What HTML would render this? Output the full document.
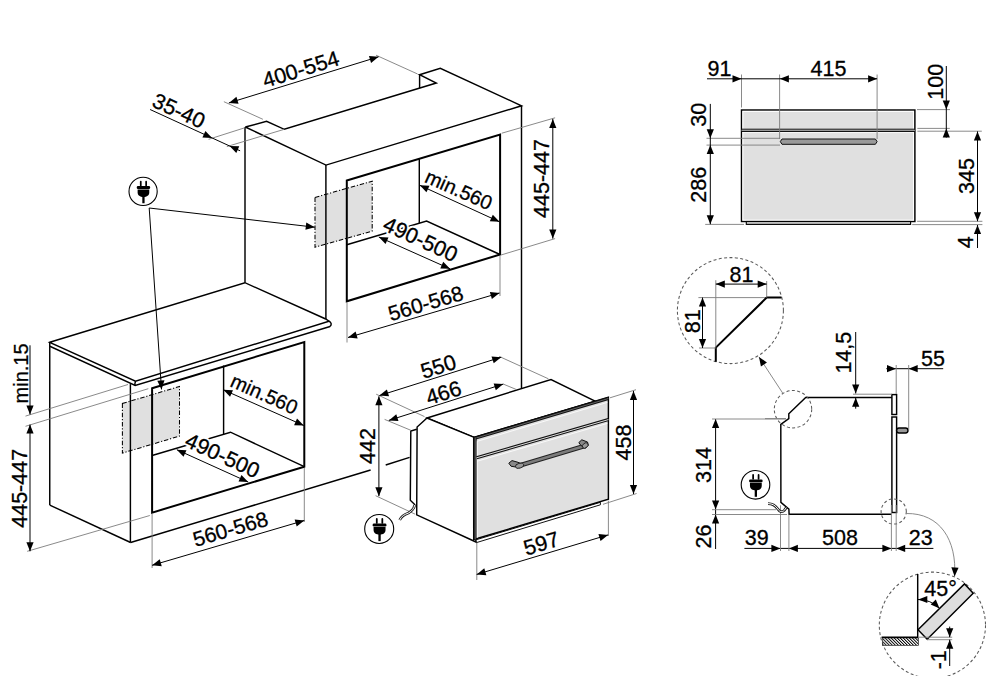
<!DOCTYPE html>
<html><head><meta charset="utf-8"><style>
html,body{margin:0;padding:0;background:#fff;}
svg{display:block;}
text{font-family:"Liberation Sans",sans-serif;text-anchor:middle;fill:#000;stroke:#000;stroke-width:0.3;}
text.halo{stroke:#fff;fill:#fff;stroke-width:4;stroke-linejoin:round;}
.k{stroke:#000;stroke-width:1.45;}
.k1{stroke:#111;stroke-width:1;}
.mid{stroke:#999;stroke-width:1.4;}
.w{stroke:#fff;stroke-width:0.8;}
.band{stroke:#111;stroke-width:2.9;}
.bandc{stroke:#8a8a8a;stroke-width:0.7;}
.band2{stroke:#111;stroke-width:3.1;}
.band2c{stroke:#f4f4f4;stroke-width:0.9;}
polyline,line{fill:none;}
.kt{stroke:#000;stroke-width:2;}
.d{stroke:#000;stroke-width:1;}
.g{stroke:#7d7d7d;stroke-width:0.9;}
.dc{stroke:#5a5a5a;stroke-width:1.05;stroke-dasharray:3 2.4;}
.dd{stroke:#000;stroke-width:1.05;stroke-dasharray:4.5 1.8 1.2 1.8;}
.ah{fill:#000;stroke:none;}
</style></head><body>
<svg width="1000" height="676" viewBox="0 0 1000 676">
<rect x="741.5" y="110" width="173.4" height="111.5" class="k" fill="#e0e0e0"/>
<rect x="742.9" y="111.4" width="170.6" height="108.7" stroke="#fff" stroke-width="1.0" fill="none"/>
<line x1="741.50" y1="130.40" x2="914.90" y2="130.40" class="mid"/>
<line x1="741.50" y1="129.20" x2="914.90" y2="129.20" class="k1"/>
<line x1="741.50" y1="131.50" x2="914.90" y2="131.50" class="k1"/>
<line x1="742.50" y1="132.60" x2="914.00" y2="132.60" class="w"/>
<rect x="746.3" y="221.5" width="164.3" height="2.9" stroke="#000" stroke-width="1.1" fill="#c8c8c8"/>
<polygon points="780.30,141.60 782.00,139.00 875.40,139.00 877.10,141.60 875.40,144.30 782.00,144.30" class="k1" fill="#999"/>
<line x1="741.50" y1="74.50" x2="741.50" y2="107.50" class="g"/>
<line x1="779.60" y1="74.50" x2="779.60" y2="139.00" class="g"/>
<line x1="877.10" y1="74.50" x2="877.10" y2="139.00" class="g"/>
<line x1="917.00" y1="109.60" x2="950.00" y2="109.60" class="g"/>
<line x1="917.40" y1="128.40" x2="949.80" y2="128.40" class="g"/>
<line x1="917.40" y1="131.20" x2="981.80" y2="131.20" class="g"/>
<line x1="917.10" y1="221.30" x2="982.40" y2="221.30" class="g"/>
<line x1="912.20" y1="224.60" x2="982.40" y2="224.60" class="g"/>
<line x1="706.50" y1="138.30" x2="780.00" y2="138.30" class="g"/>
<line x1="706.50" y1="145.10" x2="780.00" y2="145.10" class="g"/>
<line x1="705.20" y1="224.40" x2="744.00" y2="224.40" class="g"/>
<line x1="707.00" y1="78.80" x2="877.10" y2="78.80" class="d"/>
<polygon points="741.50,78.80 732.50,82.40 732.50,75.20" class="ah"/>
<polygon points="779.90,78.80 788.90,75.20 788.90,82.40" class="ah"/>
<polygon points="877.10,78.80 868.10,82.40 868.10,75.20" class="ah"/>
<line x1="946.30" y1="66.00" x2="946.30" y2="137.60" class="d"/>
<polygon points="946.30,109.60 942.70,100.60 949.90,100.60" class="ah"/>
<polygon points="946.30,128.40 949.90,137.40 942.70,137.40" class="ah"/>
<line x1="977.50" y1="131.40" x2="977.50" y2="221.20" class="d"/>
<polygon points="977.50,131.40 981.10,140.40 973.90,140.40" class="ah"/>
<polygon points="977.50,221.20 973.90,212.20 981.10,212.20" class="ah"/>
<line x1="977.50" y1="225.00" x2="977.50" y2="248.00" class="d"/>
<polygon points="977.50,225.00 981.10,234.00 973.90,234.00" class="ah"/>
<line x1="710.30" y1="103.90" x2="710.30" y2="224.20" class="d"/>
<polygon points="710.30,138.30 706.70,129.30 713.90,129.30" class="ah"/>
<polygon points="710.30,145.10 713.90,154.10 706.70,154.10" class="ah"/>
<polygon points="710.30,224.20 706.70,215.20 713.90,215.20" class="ah"/>
<text transform="translate(719.50,68.00) rotate(0.00)" x="0" y="7.70" font-size="21.5">91</text>
<text transform="translate(828.50,67.90) rotate(0.00)" x="0" y="7.70" font-size="21.5">415</text>
<text transform="translate(934.80,81.70) rotate(-90.00)" x="0" y="7.70" font-size="21.5">100</text>
<text transform="translate(966.60,176.00) rotate(-90.00)" x="0" y="7.70" font-size="21.5">345</text>
<text transform="translate(965.60,242.20) rotate(-90.00)" x="0" y="7.70" font-size="21.5">4</text>
<text transform="translate(698.50,114.80) rotate(-90.00)" x="0" y="7.70" font-size="21.5">30</text>
<text transform="translate(698.50,184.80) rotate(-90.00)" x="0" y="7.70" font-size="21.5">286</text>
<circle cx="730.4" cy="310.6" r="53" class="dc" fill="none"/>
<line x1="698.40" y1="297.60" x2="766.70" y2="297.60" class="g"/>
<polyline points="781.50,297.60 766.70,297.60 715.80,347.60 715.80,361.80" class="kt"/>
<line x1="715.80" y1="280.20" x2="715.80" y2="347.60" class="g"/>
<line x1="766.70" y1="281.00" x2="766.70" y2="297.60" class="g"/>
<line x1="699.00" y1="348.00" x2="715.80" y2="348.00" class="g"/>
<line x1="715.80" y1="284.10" x2="766.70" y2="284.10" class="d"/>
<polygon points="715.80,284.10 724.80,280.50 724.80,287.70" class="ah"/>
<polygon points="766.70,284.10 757.70,287.70 757.70,280.50" class="ah"/>
<line x1="702.50" y1="297.60" x2="702.50" y2="348.00" class="d"/>
<polygon points="702.50,297.60 706.10,306.60 698.90,306.60" class="ah"/>
<polygon points="702.50,348.00 698.90,339.00 706.10,339.00" class="ah"/>
<text transform="translate(741.50,274.20) rotate(0.00)" x="0" y="7.70" font-size="21.5">81</text>
<text transform="translate(692.40,321.30) rotate(-90.00)" x="0" y="7.70" font-size="21.5">81</text>
<line x1="782.70" y1="393.10" x2="759.00" y2="357.00" class="g"/>
<polygon points="759.00,357.00 766.95,362.55 760.93,366.50" class="ah"/>
<polyline points="892.00,397.50 805.70,397.50 788.80,413.70 788.80,418.60 780.80,424.40 780.90,502.40 788.90,509.10 789.10,514.20 891.40,514.20" class="k"/>
<rect x="891.9" y="394.6" width="4.7" height="19.9" class="k" fill="#fff"/>
<rect x="891.9" y="417" width="4.7" height="95.5" class="k" fill="#fff"/>
<rect x="896.6" y="428" width="11.4" height="5" rx="2.4" class="k" fill="#999"/>
<circle cx="793" cy="409.2" r="18.7" class="dc" fill="none"/>
<circle cx="893.7" cy="511.5" r="12.6" class="dc" fill="none"/>
<line x1="765.00" y1="418.60" x2="786.00" y2="418.60" class="g"/>
<line x1="855.70" y1="332.00" x2="855.70" y2="393.50" class="d"/>
<polygon points="855.70,393.50 852.10,384.50 859.30,384.50" class="ah"/>
<line x1="855.70" y1="397.70" x2="855.70" y2="408.70" class="d"/>
<polygon points="855.70,397.70 859.30,406.70 852.10,406.70" class="ah"/>
<line x1="853.00" y1="394.20" x2="892.00" y2="394.20" class="g"/>
<text transform="translate(842.80,352.70) rotate(-90.00)" x="0" y="7.70" font-size="21.5">14,5</text>
<line x1="886.30" y1="368.70" x2="943.20" y2="368.70" class="d"/>
<polygon points="896.00,368.70 887.00,372.30 887.00,365.10" class="ah"/>
<polygon points="908.70,368.70 917.70,365.10 917.70,372.30" class="ah"/>
<line x1="896.20" y1="365.00" x2="896.20" y2="394.00" class="g"/>
<line x1="908.70" y1="365.00" x2="908.70" y2="430.40" class="g"/>
<text transform="translate(932.90,358.00) rotate(0.00)" x="0" y="7.70" font-size="21.5">55</text>
<line x1="715.60" y1="419.00" x2="715.60" y2="549.00" class="d"/>
<polygon points="715.60,419.00 719.20,428.00 712.00,428.00" class="ah"/>
<polygon points="715.60,509.60 712.00,500.60 719.20,500.60" class="ah"/>
<line x1="712.00" y1="419.00" x2="786.00" y2="419.00" class="g"/>
<line x1="712.00" y1="509.70" x2="776.00" y2="509.70" class="g"/>
<line x1="712.00" y1="514.50" x2="787.00" y2="514.50" class="g"/>
<polygon points="715.60,514.50 719.20,523.50 712.00,523.50" class="ah"/>
<text transform="translate(703.50,465.10) rotate(-90.00)" x="0" y="7.70" font-size="21.5">314</text>
<text transform="translate(703.50,536.50) rotate(-90.00)" x="0" y="7.70" font-size="21.5">26</text>
<line x1="744.40" y1="548.40" x2="933.40" y2="548.40" class="d"/>
<polygon points="780.40,548.40 771.40,552.00 771.40,544.80" class="ah"/>
<polygon points="788.90,548.40 797.90,544.80 797.90,552.00" class="ah"/>
<polygon points="891.40,548.40 882.40,552.00 882.40,544.80" class="ah"/>
<polygon points="896.20,548.40 905.20,544.80 905.20,552.00" class="ah"/>
<line x1="780.50" y1="505.30" x2="780.50" y2="551.00" class="g"/>
<line x1="788.90" y1="514.50" x2="788.90" y2="551.00" class="g"/>
<line x1="891.40" y1="505.00" x2="891.40" y2="551.00" class="g"/>
<line x1="896.20" y1="505.00" x2="896.20" y2="551.00" class="g"/>
<text transform="translate(756.70,536.80) rotate(0.00)" x="0" y="7.70" font-size="21.5">39</text>
<text transform="translate(839.90,536.80) rotate(0.00)" x="0" y="7.70" font-size="21.5">508</text>
<text transform="translate(920.80,536.80) rotate(0.00)" x="0" y="7.70" font-size="21.5">23</text>
<circle cx="755.5" cy="484.8" r="14.3" stroke="#000" stroke-width="1.1" fill="#fff"/>
<g transform="translate(755.85,484.8) scale(1.000)" fill="#000"><rect x="-3.6" y="-10.7" width="1.75" height="5.6" rx="0.85"/><rect x="1.85" y="-10.7" width="1.75" height="5.6" rx="0.85"/><rect x="-6.8" y="-5.4" width="13.6" height="3.0" rx="1.3"/><path d="M-5.9,-1.9 H5.9 V0.8 C5.9,4.2 3.5,5.6 0,5.6 C-3.5,5.6 -5.9,4.2 -5.9,0.8 Z"/><rect x="-1.15" y="4.5" width="2.3" height="7.5"/></g>
<path d="M768,503.6 C772.5,503.6 775.5,505.5 777.8,509 C779.5,511.8 782.3,512.6 784.3,510.3 L786.3,507.6" stroke="#222" stroke-width="2.7" fill="none"/>
<path d="M768,503.6 C772.5,503.6 775.5,505.5 777.8,509 C779.5,511.8 782.3,512.6 784.3,510.3 L786.3,507.6" stroke="#fff" stroke-width="1.0" fill="none"/>
<circle cx="932.4" cy="625.2" r="53.1" class="dc" fill="none"/>
<defs><pattern id="hat" width="2.15" height="2.15" patternUnits="userSpaceOnUse" patternTransform="rotate(-45)"><line x1="0.5" y1="0" x2="0.5" y2="2.15" stroke="#000" stroke-width="0.95"/></pattern></defs>
<rect x="882.4" y="638" width="36.1" height="7.4" fill="url(#hat)" stroke="#333" stroke-width="0.7"/>
<polyline points="917.70,574.00 917.70,637.20 881.60,637.20" class="k"/>
<polygon points="918.00,629.80 927.20,639.20 973.20,593.20 964.50,583.90" class="k" fill="#ddd"/>
<path d="M918,599.5 A30.5,30.5 0 0 1 939.6,608.4" class="d" fill="none"/>
<polygon points="918.30,599.50 927.30,595.90 927.30,603.10" class="ah"/>
<polygon points="939.60,608.40 930.69,604.58 935.78,599.49" class="ah"/>
<text transform="translate(940.60,588.40) rotate(0.00)" x="0" y="7.70" font-size="21.5">45°</text>
<line x1="918.50" y1="637.20" x2="952.20" y2="637.20" class="g"/>
<line x1="927.00" y1="639.70" x2="952.20" y2="639.70" class="g"/>
<line x1="949.70" y1="626.60" x2="949.70" y2="637.20" class="d"/>
<polygon points="949.70,637.20 946.10,628.20 953.30,628.20" class="ah"/>
<line x1="949.70" y1="639.70" x2="949.70" y2="666.00" class="d"/>
<polygon points="949.70,639.70 953.30,648.70 946.10,648.70" class="ah"/>
<text transform="translate(937.80,659.80) rotate(-90.00)" x="0" y="7.70" font-size="21.5">-1</text>
<path d="M906.3,513.5 C940,513 957,540 954.6,576.5" class="g" fill="none"/>
<polygon points="954.60,576.50 951.35,567.37 958.54,567.64" class="ah"/>
<polygon points="315.00,197.40 372.20,181.20 372.20,231.10 315.00,247.20" class="dd" fill="#e0e0e0"/>
<polygon points="122.40,403.50 179.50,386.50 179.50,436.10 122.40,453.10" class="dd" fill="#e0e0e0"/>
<polyline points="245.30,127.00 266.60,121.30 284.30,129.30 436.30,83.00 419.60,74.70 440.30,68.30 521.50,105.80 326.00,165.10 245.30,127.00" class="k"/>
<line x1="419.60" y1="74.70" x2="419.60" y2="88.10" class="k"/>
<line x1="245.00" y1="127.00" x2="245.00" y2="282.70" class="k"/>
<line x1="325.90" y1="165.10" x2="325.90" y2="319.00" class="k"/>
<line x1="521.50" y1="105.80" x2="521.50" y2="388.40" class="k"/>
<polygon points="346.80,180.50 500.10,134.50 500.10,254.50 346.80,301.30" class="kt" fill="none"/>
<line x1="419.30" y1="158.70" x2="419.30" y2="223.10" class="k"/>
<polyline points="346.80,244.80 426.60,221.00 500.00,254.50" class="k"/>
<line x1="223.90" y1="101.70" x2="262.90" y2="119.30" class="g"/>
<line x1="376.00" y1="55.20" x2="417.60" y2="74.00" class="g"/>
<line x1="228.90" y1="102.90" x2="378.60" y2="56.80" class="d"/>
<polygon points="228.90,102.90 236.44,96.81 238.56,103.69" class="ah"/>
<polygon points="378.60,56.80 371.06,62.89 368.94,56.01" class="ah"/>
<text transform="translate(300.60,69.00) rotate(-17.26)" x="0" y="7.70" font-size="21.5">400-554</text>
<line x1="208.60" y1="139.30" x2="245.00" y2="127.70" class="g"/>
<line x1="226.80" y1="146.60" x2="284.30" y2="129.30" class="g"/>
<line x1="150.10" y1="109.50" x2="240.10" y2="150.80" class="d"/>
<polygon points="212.10,137.90 202.42,137.43 205.41,130.88" class="ah"/>
<polygon points="229.60,145.90 239.28,146.35 236.30,152.90" class="ah"/>
<text transform="translate(179.00,110.50) rotate(24.60)" x="0" y="7.70" font-size="21.5">35-40</text>
<line x1="419.80" y1="185.30" x2="499.50" y2="221.80" class="d"/>
<polygon points="419.80,185.30 429.48,185.77 426.48,192.32" class="ah"/>
<polygon points="499.50,221.80 489.82,221.33 492.82,214.78" class="ah"/>
<text transform="translate(458.80,189.60) rotate(24.00)" x="0" y="7.16" font-size="20">min.560</text>
<line x1="378.80" y1="237.00" x2="450.00" y2="268.80" class="d"/>
<polygon points="378.80,237.00 388.49,237.38 385.55,243.96" class="ah"/>
<polygon points="450.00,268.80 440.31,268.42 443.25,261.84" class="ah"/>
<text class="halo" transform="translate(420.60,239.00) rotate(24.60)" x="0" y="7.70" font-size="21.5">490-500</text>
<text transform="translate(420.60,239.00) rotate(24.60)" x="0" y="7.70" font-size="21.5">490-500</text>
<line x1="347.00" y1="302.50" x2="347.00" y2="342.50" class="g"/>
<line x1="500.00" y1="256.00" x2="500.00" y2="296.00" class="g"/>
<line x1="348.00" y1="337.50" x2="499.50" y2="293.00" class="d"/>
<polygon points="348.00,337.50 355.62,331.51 357.65,338.42" class="ah"/>
<polygon points="499.50,293.00 491.88,298.99 489.85,292.08" class="ah"/>
<text transform="translate(425.60,303.10) rotate(-16.37)" x="0" y="7.52" font-size="21">560-568</text>
<line x1="501.80" y1="133.20" x2="555.10" y2="117.80" class="g"/>
<line x1="500.70" y1="255.10" x2="555.10" y2="238.60" class="g"/>
<line x1="552.80" y1="118.90" x2="552.80" y2="238.60" class="d"/>
<polygon points="552.80,118.90 556.40,127.90 549.20,127.90" class="ah"/>
<polygon points="552.80,238.60 549.20,229.60 556.40,229.60" class="ah"/>
<text transform="translate(541.30,178.50) rotate(-90.00)" x="0" y="7.70" font-size="21.5">445-447</text>
<polygon points="49.75,342.30 244.90,282.70 325.70,319.00 329.00,321.20 135.50,381.20" class="k" fill="#fff"/>
<polyline points="49.75,342.30 49.75,346.20 135.20,385.40 330.10,326.50" class="k"/>
<path d="M329,321.2 Q332.8,323.6 330.1,326.5" class="k" fill="none"/>
<path d="M135.5,381.2 Q134.5,383.8 135.2,385.4" class="k" fill="none"/>
<line x1="49.75" y1="346.20" x2="49.75" y2="505.10" class="k"/>
<line x1="49.75" y1="505.10" x2="130.60" y2="542.50" class="k"/>
<line x1="130.40" y1="384.10" x2="130.40" y2="542.50" class="k"/>
<line x1="130.60" y1="542.50" x2="370.60" y2="470.00" class="k"/>
<line x1="385.70" y1="465.00" x2="409.60" y2="457.40" class="k"/>
<polygon points="152.10,388.30 304.30,342.00 304.30,466.70 152.10,512.60" class="kt" fill="none"/>
<line x1="223.60" y1="365.50" x2="223.60" y2="434.30" class="k"/>
<polyline points="152.10,455.50 230.50,432.20 304.30,466.70" class="k"/>
<line x1="223.30" y1="389.80" x2="303.80" y2="425.50" class="d"/>
<polygon points="223.30,389.80 232.99,390.16 230.07,396.74" class="ah"/>
<polygon points="303.80,425.50 294.11,425.14 297.03,418.56" class="ah"/>
<text transform="translate(264.30,393.90) rotate(24.00)" x="0" y="7.16" font-size="20">min.560</text>
<line x1="176.80" y1="449.70" x2="248.20" y2="482.00" class="d"/>
<polygon points="176.80,449.70 186.48,450.13 183.52,456.69" class="ah"/>
<polygon points="248.20,482.00 238.52,481.57 241.48,475.01" class="ah"/>
<text class="halo" transform="translate(222.70,455.20) rotate(24.60)" x="0" y="7.70" font-size="21.5">490-500</text>
<text transform="translate(222.70,455.20) rotate(24.60)" x="0" y="7.70" font-size="21.5">490-500</text>
<line x1="152.10" y1="514.00" x2="152.10" y2="568.00" class="g"/>
<line x1="304.30" y1="468.00" x2="304.30" y2="522.00" class="g"/>
<line x1="152.10" y1="565.30" x2="304.30" y2="520.50" class="d"/>
<polygon points="152.10,565.30 159.72,559.31 161.75,566.21" class="ah"/>
<polygon points="304.30,520.50 296.68,526.49 294.65,519.59" class="ah"/>
<text transform="translate(230.30,528.80) rotate(-16.39)" x="0" y="7.52" font-size="21">560-568</text>
<line x1="25.50" y1="416.10" x2="128.00" y2="384.50" class="g"/>
<line x1="25.50" y1="426.30" x2="148.30" y2="388.70" class="g"/>
<line x1="27.20" y1="551.30" x2="149.80" y2="515.50" class="g"/>
<line x1="30.00" y1="345.30" x2="30.00" y2="414.40" class="d"/>
<polygon points="30.00,414.40 26.40,405.40 33.60,405.40" class="ah"/>
<line x1="30.00" y1="424.60" x2="30.00" y2="551.30" class="d"/>
<polygon points="30.00,424.60 33.60,433.60 26.40,433.60" class="ah"/>
<polygon points="30.00,551.30 26.40,542.30 33.60,542.30" class="ah"/>
<text transform="translate(21.30,373.40) rotate(-90.00)" x="0" y="7.16" font-size="20">min.15</text>
<text transform="translate(19.50,488.30) rotate(-90.00)" x="0" y="7.70" font-size="21.5">445-447</text>
<polyline points="416.70,429.30 410.80,431.10 410.30,500.20 415.20,504.90" class="k"/>
<polygon points="427.00,418.00 551.00,379.50 595.50,401.30 474.20,437.40" class="k" fill="#fff"/>
<polygon points="427.00,418.00 417.10,427.00 416.70,514.80 476.00,542.00 474.20,437.40" class="k" fill="#fff"/>
<polygon points="476.00,539.80 600.40,502.30 600.40,504.80 476.50,542.60" class="k1" fill="#fff"/>
<polygon points="473.70,437.40 608.40,397.20 608.40,499.20 473.70,539.50" class="k" fill="#e0e0e0"/>
<line x1="473.90" y1="438.70" x2="608.40" y2="398.50" class="band"/>
<line x1="473.90" y1="438.70" x2="608.40" y2="398.50" class="bandc"/>
<line x1="475.20" y1="437.60" x2="475.20" y2="539.30" class="band"/>
<line x1="475.20" y1="437.60" x2="475.20" y2="539.30" class="bandc"/>
<line x1="477.30" y1="441.30" x2="607.40" y2="402.40" class="w"/>
<line x1="477.30" y1="441.30" x2="477.30" y2="537.80" class="w"/>
<line x1="476.60" y1="457.80" x2="608.40" y2="419.60" class="band2"/>
<line x1="476.60" y1="457.80" x2="608.40" y2="419.60" class="band2c"/>
<line x1="477.30" y1="461.20" x2="607.40" y2="423.40" class="w"/>
<path d="M519.5,465.5 L584.5,446" stroke="#222" stroke-width="4.8" stroke-linecap="round" fill="none"/>
<path d="M519.5,465.5 L584.5,446" stroke="#7c7c7c" stroke-width="2.6" stroke-linecap="round" fill="none"/>
<polygon points="508.80,463.20 512.00,460.60 518.00,462.30 521.50,463.80 520.00,467.80 511.00,466.20" class="k1" fill="#888"/>
<ellipse cx="519.6" cy="465.7" rx="4.3" ry="2.4" transform="rotate(-16 519.6 465.7)" stroke="#222" stroke-width="0.9" fill="#999"/>
<polygon points="578.80,442.60 581.80,439.80 587.50,442.00 588.30,445.20 585.50,448.20 581.00,445.50" class="k1" fill="#888"/>
<ellipse cx="585.2" cy="445.5" rx="3.2" ry="2.3" transform="rotate(-40 585.2 445.5)" stroke="#222" stroke-width="0.9" fill="#999"/>
<line x1="376.20" y1="394.20" x2="424.50" y2="416.60" class="g"/>
<line x1="499.10" y1="356.40" x2="548.40" y2="378.80" class="g"/>
<line x1="379.40" y1="395.60" x2="501.20" y2="357.20" class="d"/>
<polygon points="379.40,395.60 386.90,389.46 389.07,396.33" class="ah"/>
<polygon points="501.20,357.20 493.70,363.34 491.53,356.47" class="ah"/>
<text transform="translate(438.20,366.30) rotate(-17.50)" x="0" y="7.70" font-size="21.5">550</text>
<line x1="384.60" y1="419.40" x2="410.90" y2="430.30" class="g"/>
<line x1="503.30" y1="384.10" x2="515.90" y2="389.30" class="g"/>
<line x1="388.80" y1="420.40" x2="503.30" y2="384.10" class="d"/>
<polygon points="388.80,420.40 396.29,414.25 398.47,421.11" class="ah"/>
<polygon points="503.30,384.10 495.81,390.25 493.63,383.39" class="ah"/>
<text transform="translate(443.40,392.50) rotate(-17.59)" x="0" y="7.70" font-size="21.5">466</text>
<line x1="378.90" y1="396.30" x2="378.90" y2="496.20" class="d"/>
<polygon points="378.90,396.30 382.50,405.30 375.30,405.30" class="ah"/>
<polygon points="378.90,496.20 375.30,487.20 382.50,487.20" class="ah"/>
<line x1="375.60" y1="495.70" x2="415.20" y2="514.20" class="g"/>
<text transform="translate(367.40,446.00) rotate(-90.00)" x="0" y="7.70" font-size="21.5">442</text>
<line x1="610.00" y1="397.80" x2="636.00" y2="389.70" class="g"/>
<line x1="603.00" y1="504.30" x2="636.60" y2="493.50" class="g"/>
<line x1="633.50" y1="391.00" x2="633.50" y2="494.00" class="d"/>
<polygon points="633.50,391.00 637.10,400.00 629.90,400.00" class="ah"/>
<polygon points="633.50,494.00 629.90,485.00 637.10,485.00" class="ah"/>
<text transform="translate(622.90,442.50) rotate(-90.00)" x="0" y="7.70" font-size="21.5">458</text>
<line x1="476.80" y1="543.00" x2="476.80" y2="580.00" class="g"/>
<line x1="608.40" y1="500.70" x2="608.40" y2="536.00" class="g"/>
<line x1="476.70" y1="574.40" x2="608.10" y2="534.90" class="d"/>
<polygon points="476.70,574.40 484.28,568.36 486.36,575.26" class="ah"/>
<polygon points="608.10,534.90 600.52,540.94 598.44,534.04" class="ah"/>
<text transform="translate(541.30,543.10) rotate(-16.85)" x="0" y="7.70" font-size="21.5">597</text>
<circle cx="379.2" cy="528.95" r="14.5" stroke="#000" stroke-width="1.1" fill="#fff"/>
<g transform="translate(379.55,528.95) scale(1.014)" fill="#000"><rect x="-3.6" y="-10.7" width="1.75" height="5.6" rx="0.85"/><rect x="1.85" y="-10.7" width="1.75" height="5.6" rx="0.85"/><rect x="-6.8" y="-5.4" width="13.6" height="3.0" rx="1.3"/><path d="M-5.9,-1.9 H5.9 V0.8 C5.9,4.2 3.5,5.6 0,5.6 C-3.5,5.6 -5.9,4.2 -5.9,0.8 Z"/><rect x="-1.15" y="4.5" width="2.3" height="7.5"/></g>
<path d="M414.8,505 C414,508.5 412,511 408.5,513 C404.5,514.5 401.5,516 399.7,520" stroke="#222" stroke-width="2.7" fill="none"/>
<path d="M414.8,505 C414,508.5 412,511 408.5,513 C404.5,514.5 401.5,516 399.7,520" stroke="#fff" stroke-width="1.0" fill="none"/>
<circle cx="143.1" cy="191.4" r="14.1" stroke="#000" stroke-width="1.1" fill="#fff"/>
<g transform="translate(143.45,191.4) scale(0.986)" fill="#000"><rect x="-3.6" y="-10.7" width="1.75" height="5.6" rx="0.85"/><rect x="1.85" y="-10.7" width="1.75" height="5.6" rx="0.85"/><rect x="-6.8" y="-5.4" width="13.6" height="3.0" rx="1.3"/><path d="M-5.9,-1.9 H5.9 V0.8 C5.9,4.2 3.5,5.6 0,5.6 C-3.5,5.6 -5.9,4.2 -5.9,0.8 Z"/><rect x="-1.15" y="4.5" width="2.3" height="7.5"/></g>
<line x1="149.20" y1="208.00" x2="314.80" y2="227.20" class="d"/>
<polygon points="314.80,227.20 305.45,229.74 306.27,222.59" class="ah"/>
<line x1="149.20" y1="208.00" x2="161.50" y2="389.40" class="d"/>
<polygon points="161.50,389.40 157.30,380.66 164.48,380.18" class="ah"/>
</svg>
</body></html>
